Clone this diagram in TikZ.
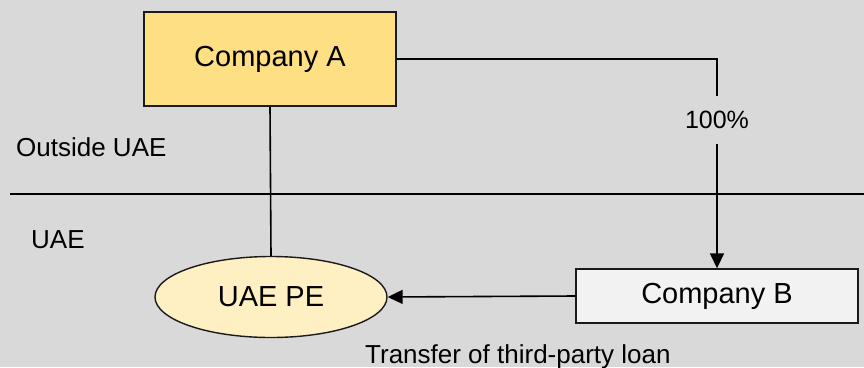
\documentclass[tikz,border=0pt]{standalone}
\usepackage{fontspec}
\setmainfont{Liberation Sans}
\usetikzlibrary{arrows.meta,shapes.geometric}
\definecolor{bg}{HTML}{D9D9D9}
\definecolor{afill}{HTML}{FFDF84}
\definecolor{efill}{HTML}{FEF0C2}
\definecolor{bfill}{HTML}{F2F2F2}
\definecolor{edge}{HTML}{1A1A1A}
\tikzset{
  big/.style={font=\fontsize{29}{34}\selectfont},
  small/.style={font=\fontsize{26}{31}\selectfont},
  box/.style={draw=edge, line width=1.4pt, inner sep=0pt, big},
  conn/.style={draw=black, line width=1.6pt},
  arr/.style={conn, -{Triangle[length=15pt,width=14pt]}},
  lbl/.style={inner sep=0pt, small}
}
\begin{document}
\begin{tikzpicture}[x=1pt,y=-1pt]
\fill[bg] (0,0) rectangle (864,367);
\useasboundingbox (0,0) rectangle (864,367);
\node[box, fill=afill, minimum width=252pt, minimum height=94pt] (A) at (270,59) {Company A};
\node[box, fill=bfill, minimum width=282pt, minimum height=54pt] (B) at (717,296) {Company B};
\node[box, fill=efill, ellipse, minimum width=232pt, minimum height=81pt] (E) at (271,297) {UAE PE};
\coordinate (sepL) at (10,194);
\coordinate (sepR) at (864,194);
\coordinate (corner) at (717,59);
\node[lbl, minimum height=47pt, font=\fontsize{25}{30}\selectfont] (P) at (717,120) {100\%};
\node[lbl, anchor=base west] (out) at (16,156) {Outside UAE};
\node[lbl, anchor=base west] (uae) at (31,248) {UAE};
\node[lbl, anchor=base west] (tr) at (365,363) {Transfer of third-party loan};
\draw[conn] (sepL) -- (sepR);
\draw[conn] (A.east) -- (corner) -- (P.north);
\draw[arr] (P.south) -- (B.north);
\draw[conn] (A.south) -- (E.north);
\draw[arr] (B.west) -- (E.east);
\end{tikzpicture}
\end{document}
